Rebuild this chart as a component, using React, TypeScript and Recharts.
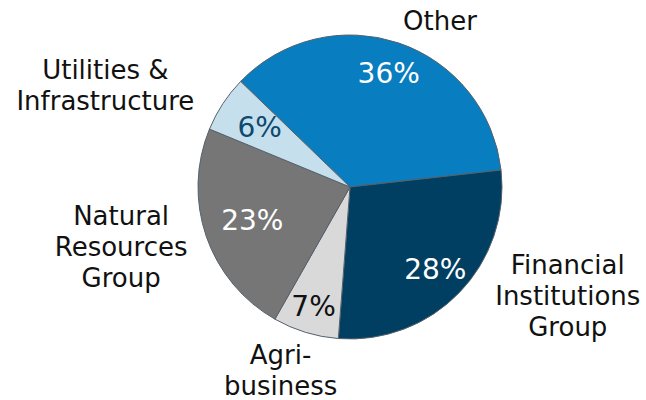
import { Cell, Pie, PieChart } from "recharts";

const categories = [
  "Other",
  "Financial Institutions Group",
  "Agribusiness",
  "Natural Resources Group",
  "Utilities & Infrastructure",
];
const shares = [36, 28, 7, 23, 6];
const labelLines = [
  ["Other"],
  ["Financial", "Institutions", "Group"],
  ["Agri-", "business"],
  ["Natural", "Resources", "Group"],
  ["Utilities &", "Infrastructure"],
];

const COLORS = ["#087dbf", "#003f62", "#d9d9d9", "#767676", "#c6dfec"];
const PCT_COLORS = ["#ffffff", "#ffffff", "#111111", "#ffffff", "#0d4a70"];

// where each outer caption / percentage sits relative to its slice
const OUTER_NUDGE = [
  { dx: 30, dy: 10 },
  { dx: 84, dy: -20 },
  { dx: -15, dy: 6 },
  { dx: -53, dy: -1 },
  { dx: -89, dy: 0 },
];
const INNER_RADIUS_FACTOR = [0.79, 0.78, 0.82, 0.68, 0.71];

const FONT = "'DejaVu Sans', Verdana, sans-serif";
const LINE_HEIGHT = 31;
const RADIAN = Math.PI / 180;

const pieData = categories.map((name, i) => ({ name, value: shares[i] }));

const renderLabel = ({
  cx,
  cy,
  midAngle,
  outerRadius,
  index,
  value,
}: {
  cx: number;
  cy: number;
  midAngle: number;
  outerRadius: number;
  index: number;
  value: number;
}) => {
  const cos = Math.cos(-midAngle * RADIAN);
  const sin = Math.sin(-midAngle * RADIAN);

  const ri = outerRadius * INNER_RADIUS_FACTOR[index];
  const ix = cx + ri * cos;
  const iy = cy + ri * sin;

  const ro = outerRadius + 34;
  const ox = cx + ro * cos + OUTER_NUDGE[index].dx;
  const oy = cy + ro * sin + OUTER_NUDGE[index].dy;
  const lines = labelLines[index];

  return (
    <g>
      <text
        x={ix}
        y={iy}
        fill={PCT_COLORS[index]}
        textAnchor="middle"
        dominantBaseline="central"
        fontSize={28}
        fontFamily={FONT}
      >
        {`${value}%`}
      </text>
      {lines.map((line, i) => (
        <text
          key={line}
          x={ox}
          y={oy + (i - (lines.length - 1) / 2) * LINE_HEIGHT}
          fill="#111111"
          textAnchor="middle"
          dominantBaseline="central"
          fontSize={26}
          fontFamily={FONT}
        >
          {line}
        </text>
      ))}
    </g>
  );
};

export default function App() {
  return (
    <div style={{ position: "absolute", left: 0, top: 0, width: 646, height: 400, background: "#fff" }}>
      <PieChart width={646} height={400} margin={{ top: 0, right: 0, bottom: 0, left: 0 }}>
        <Pie
          data={pieData}
          dataKey="value"
          nameKey="name"
          cx={350}
          cy={187}
          outerRadius={152}
          startAngle={136}
          endAngle={-224}
          stroke="#56616b"
          strokeWidth={1}
          labelLine={false}
          label={renderLabel}
          isAnimationActive={false}
        >
          {pieData.map((entry, index) => (
            <Cell key={`cell-${entry.name}`} fill={COLORS[index]} />
          ))}
        </Pie>
      </PieChart>
    </div>
  );
}
